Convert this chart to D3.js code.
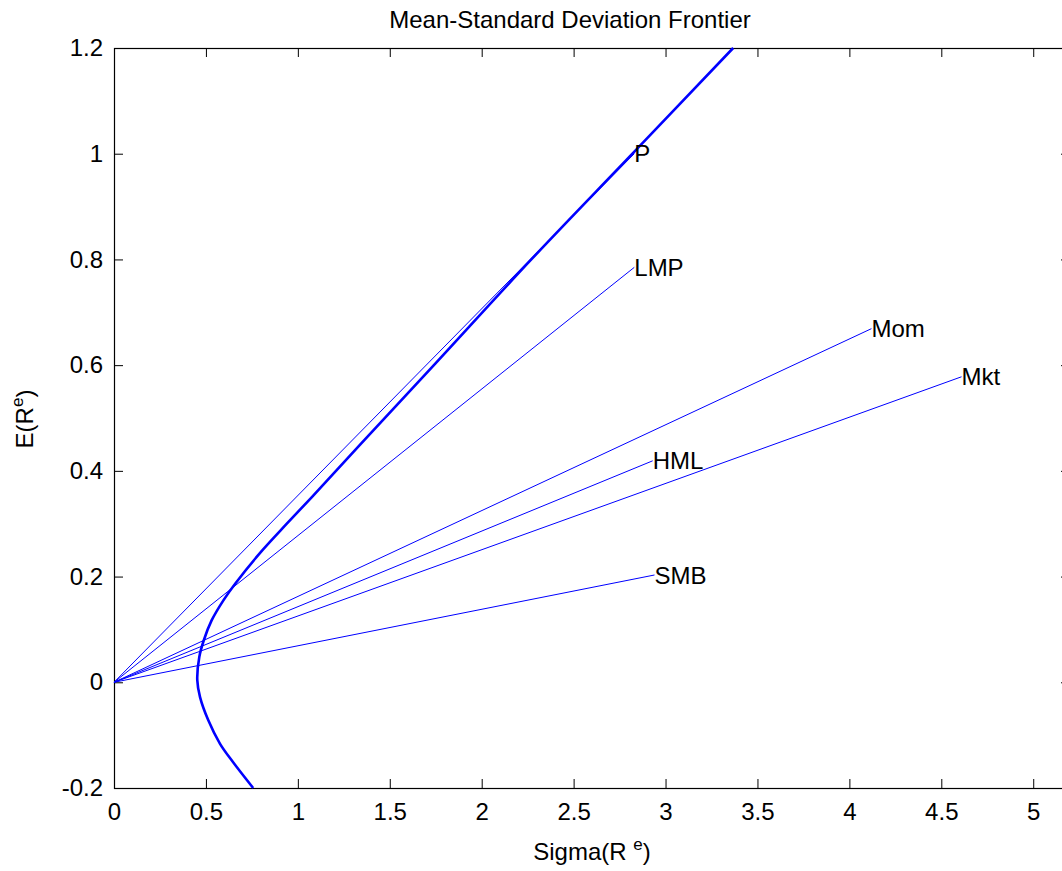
<!DOCTYPE html>
<html>
<head>
<meta charset="utf-8">
<script src="https://cdn.jsdelivr.net/npm/d3@7"></script>
<style>
  body { margin: 0; background: #fff; }
  text { font-family: "Liberation Sans", Arial, sans-serif; }
</style>
</head>
<body>
<div id="chart"></div>
<script>
// Assets: end points of the rays from the origin
const assetNames = ["P", "LMP", "Mom", "Mkt", "HML", "SMB"];
const assetSigma = [2.83, 2.83, 4.12, 4.61, 2.93, 2.94];
const assetMean = [1.0, 0.785, 0.669, 0.578, 0.419, 0.203];

// Mean-variance frontier
const frontierMean = [-0.2, -0.15, -0.116, -0.072, -0.028, 0.004, 0.048, 0.08, 0.117, 0.155, 0.187, 0.243, 0.3, 0.35, 0.45, 0.6, 0.8, 1.0, 1.2];
const frontierSigma = [0.757, 0.645, 0.576, 0.513, 0.468, 0.453, 0.464, 0.489, 0.531, 0.595, 0.66, 0.79, 0.94, 1.075, 1.34, 1.74, 2.27, 2.82, 3.368];

const xTicks = [0, 0.5, 1, 1.5, 2, 2.5, 3, 3.5, 4, 4.5, 5];
const yTicks = [-0.2, 0, 0.2, 0.4, 0.6, 0.8, 1, 1.2];

const width = 1062;
const height = 871;
const fontSize = 24;
const tickLen = 9;

const svg = d3.select("#chart")
    .append("svg")
    .attr("width", width)
    .attr("height", height);

// Scales (plot box runs a little past the right edge of the window)
const xScale = d3.scaleLinear().domain([0, 5.2]).range([114, 1070]);
const yScale = d3.scaleLinear().domain([-0.2, 1.2]).range([788, 48]);

const x0 = xScale.range()[0], x1 = xScale.range()[1];
const y0 = yScale.range()[0], y1 = yScale.range()[1];

// Bottom axis (ticks inside) + labels
svg.append("g")
    .attr("transform", `translate(0, ${y0})`)
    .call(d3.axisBottom(xScale).tickValues(xTicks).tickSizeInner(-tickLen).tickSizeOuter(0).tickPadding(15).tickFormat(d => String(d)))
    .call(g => g.select(".domain").remove())
    .call(g => g.selectAll("line").attr("stroke", "#000"))
    .call(g => g.selectAll("text").attr("font-size", fontSize).attr("font-family", "Liberation Sans, Arial, sans-serif").attr("fill", "#000"));

// Top axis ticks
svg.append("g")
    .attr("transform", `translate(0, ${y1})`)
    .call(d3.axisTop(xScale).tickValues(xTicks).tickSizeInner(-tickLen).tickSizeOuter(0).tickFormat(""))
    .call(g => g.select(".domain").remove())
    .call(g => g.selectAll("line").attr("stroke", "#000"));

// Left axis + labels
svg.append("g")
    .attr("transform", `translate(${x0}, 0)`)
    .call(d3.axisLeft(yScale).tickValues(yTicks).tickSizeInner(-tickLen).tickSizeOuter(0).tickPadding(11).tickFormat(d => String(Math.round(d * 10) / 10)))
    .call(g => g.select(".domain").remove())
    .call(g => g.selectAll("line").attr("stroke", "#000"))
    .call(g => g.selectAll("text").attr("font-size", fontSize).attr("font-family", "Liberation Sans, Arial, sans-serif").attr("fill", "#000"));

// Right axis ticks
svg.append("g")
    .attr("transform", `translate(${x1}, 0)`)
    .call(d3.axisRight(yScale).tickValues(yTicks).tickSizeInner(-tickLen).tickSizeOuter(0).tickFormat(""))
    .call(g => g.select(".domain").remove())
    .call(g => g.selectAll("line").attr("stroke", "#000"));

// Box
svg.append("rect")
    .attr("x", x0 + 0.5)
    .attr("y", y1 + 0.5)
    .attr("width", x1 - x0)
    .attr("height", y0 - y1)
    .attr("fill", "none")
    .attr("stroke", "#000")
    .attr("stroke-width", 1.2);

// Rays from the origin to each asset
svg.selectAll(".ray")
    .data(assetNames)
    .enter()
    .append("line")
    .attr("class", "ray")
    .attr("x1", xScale(0))
    .attr("y1", yScale(0))
    .attr("x2", (d, i) => xScale(assetSigma[i]))
    .attr("y2", (d, i) => yScale(assetMean[i]))
    .attr("stroke", "#0000ff")
    .attr("stroke-width", 1);

// Frontier
const frontier = frontierMean.map((m, i) => [frontierSigma[i], m]);
svg.append("path")
    .datum(frontier)
    .attr("fill", "none")
    .attr("stroke", "#0000ff")
    .attr("stroke-width", 2.6)
    .attr("d", d3.line()
        .x(d => xScale(d[0]))
        .y(d => yScale(d[1]))
        .curve(d3.curveCatmullRom));

// Asset labels
svg.selectAll(".lbl")
    .data(assetNames)
    .enter()
    .append("text")
    .attr("class", "lbl")
    .attr("x", (d, i) => xScale(assetSigma[i]))
    .attr("y", (d, i) => yScale(assetMean[i]))
    .attr("dy", "0.36em")
    .attr("font-size", fontSize)
    .attr("fill", "#000")
    .text(d => d);

// Title
svg.append("text")
    .attr("x", 570)
    .attr("y", 28)
    .attr("text-anchor", "middle")
    .attr("font-size", fontSize)
    .text("Mean-Standard Deviation Frontier");

// X label
const xl = svg.append("text")
    .attr("x", 592)
    .attr("y", 860)
    .attr("text-anchor", "middle")
    .attr("font-size", fontSize);
xl.append("tspan").text("Sigma(R ");
xl.append("tspan").attr("dy", -10).attr("font-size", 17).text("e");
xl.append("tspan").attr("dy", 10).text(")");

// Y label
const yl = svg.append("text")
    .attr("transform", `translate(33, 419) rotate(-90)`)
    .attr("text-anchor", "middle")
    .attr("font-size", fontSize);
yl.append("tspan").text("E(R");
yl.append("tspan").attr("dy", -10).attr("font-size", 17).text("e");
yl.append("tspan").attr("dy", 10).text(")");
</script>
</body>
</html>
